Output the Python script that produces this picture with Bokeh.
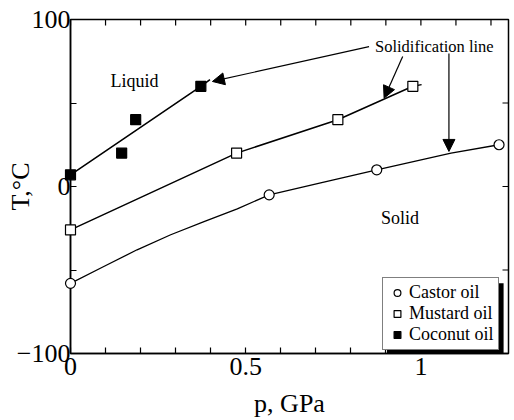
from bokeh.plotting import figure
from bokeh.models import (Range1d, FixedTicker, LinearAxis, Label, Arrow, NormalHead,
                          Legend, LegendItem, BoxAnnotation)
from bokeh.embed import file_html
from bokeh.resources import INLINE

# measured points
castor_p = [0.0, 0.567, 0.874, 1.223]
castor_T = [-58, -5, 10, 25]
mustard_p = [0.0, 0.474, 0.763, 0.977]
mustard_T = [-26, 20, 40, 60]
coconut_p = [0.0, 0.146, 0.186, 0.372]
coconut_T = [7, 20, 40, 60]

# solidification lines
castor_curve_p = [0.0, 0.095, 0.19, 0.286, 0.381, 0.476, 0.567, 0.72, 0.874, 1.086, 1.223]
castor_curve_T = [-58, -47.9, -37.9, -28.9, -21, -13.4, -5, 2.5, 10, 20, 25]
mustard_curve_p = [0.0, 0.474, 0.763, 0.977, 1.002]
mustard_curve_T = [-26, 20, 40, 60, 61]
coconut_curve_p = [0.0, 0.372, 0.398]
coconut_curve_T = [7, 60, 64]

x_major = [0, 0.5, 1]
x_minor = [0.1, 0.2, 0.3, 0.4, 0.6, 0.7, 0.8, 0.9, 1.1, 1.2]
x_labels = {0: "0", 0.5: "0.5", 1: "1"}
y_major = [-100, 0, 100]
y_minor = [-50, 50]

X_MIN, X_MAX = 0, 1.25
Y_MIN, Y_MAX = -100, 100

FONT = "Liberation Serif"

p = figure(width=514, height=420, output_backend="svg", toolbar_location=None,
           x_range=Range1d(X_MIN, X_MAX), y_range=Range1d(Y_MIN, Y_MAX),
           x_axis_location=None, y_axis_location=None,
           min_border_left=70, min_border_right=6, min_border_top=19, min_border_bottom=67)
p.grid.visible = False
p.outline_line_color = "black"
p.outline_line_width = 1.5
p.background_fill_color = "white"
p.border_fill_color = "white"


def make_axis(ticks, minor, label, tick_standoff, label_standoff, overrides=None):
    ax = LinearAxis(ticker=FixedTicker(ticks=ticks, minor_ticks=minor))
    ax.major_tick_in = 6
    ax.major_tick_out = 0
    ax.minor_tick_in = 6
    ax.minor_tick_out = 0
    ax.axis_line_width = 1.5
    ax.major_tick_line_width = 1.2
    ax.minor_tick_line_width = 1.2
    ax.axis_line_color = "black"
    ax.major_tick_line_color = "black"
    ax.minor_tick_line_color = "black"
    ax.major_label_text_font = FONT
    ax.major_label_text_font_size = "26px"
    ax.major_label_text_color = "black"
    ax.major_label_standoff = tick_standoff
    ax.axis_label = label
    ax.axis_label_standoff = label_standoff
    ax.axis_label_text_font = FONT
    ax.axis_label_text_font_size = "26px"
    ax.axis_label_text_font_style = "normal"
    ax.axis_label_text_color = "black"
    if overrides:
        ax.major_label_overrides = overrides
    return ax


p.add_layout(make_axis(x_major, x_minor, "p, GPa", 4, 11, x_labels), "below")
p.add_layout(make_axis(y_major, y_minor, "T,\u00b0C", 0, -21), "left")

# inward ticks on the top and right frame edges
x_all = x_major + x_minor
y_all = y_major + y_minor
tick_dx = (X_MAX - X_MIN) * 6 / 438
tick_dy = (Y_MAX - Y_MIN) * 6 / 334
p.segment(x0=x_all, y0=[Y_MAX] * len(x_all), x1=x_all, y1=[Y_MAX - tick_dy] * len(x_all),
          line_color="black", line_width=1.2)
p.segment(x0=[X_MAX] * len(y_all), y0=y_all, x1=[X_MAX - tick_dx] * len(y_all), y1=y_all,
          line_color="black", line_width=1.2)

# lines
p.line(castor_curve_p, castor_curve_T, line_color="black", line_width=1.3)
p.line(mustard_curve_p, mustard_curve_T, line_color="black", line_width=1.5)
p.line(coconut_curve_p, coconut_curve_T, line_color="black", line_width=1.6)

# markers (overlay level so the ones on the axis are not cut by the frame)
r_castor = p.scatter(castor_p, castor_T, marker="circle", size=10, fill_color="white",
                     line_color="black", line_width=1.2, level="overlay")
r_mustard = p.scatter(mustard_p, mustard_T, marker="square", size=10, fill_color="white",
                      line_color="black", line_width=1.2, level="overlay")
r_coconut = p.scatter(coconut_p, coconut_T, marker="square", size=10, fill_color="black",
                      line_color="black", line_width=1.2, level="overlay")

# texts
for txt, x, y, size in [("Liquid", 0.114, 63, "18px"), ("Solid", 0.886, -19, "18px"),
                         ("Solidification line", 0.869, 84, "16.5px")]:
    p.add_layout(Label(x=x, y=y, text=txt, text_font=FONT, text_font_size=size,
                       text_baseline="middle", text_align="left", text_color="black"))

# arrows
for xs, ys, xe, ye in [(0.852, 83.8, 0.405, 62.9), (0.948, 77.8, 0.895, 52.9),
                       (1.08, 79.6, 1.08, 21)]:
    p.add_layout(Arrow(end=NormalHead(size=12, fill_color="black", line_color="black"),
                       x_start=xs, y_start=ys, x_end=xe, y_end=ye,
                       line_color="black", line_width=1.2))

# legend shadow + legend
p.add_layout(BoxAnnotation(left=0.903, right=1.236, top=-58.0, bottom=-100,
                           fill_color="black", fill_alpha=1, line_color=None))
legend = Legend(items=[LegendItem(label="Castor oil", renderers=[r_castor]),
                       LegendItem(label="Mustard oil", renderers=[r_mustard]),
                       LegendItem(label="Coconut oil", renderers=[r_coconut])],
                location=(312, 3), border_line_color="black", border_line_width=1.5,
                background_fill_color="white", background_fill_alpha=1,
                label_text_font=FONT, label_text_font_size="18px", label_text_color="black",
                padding=4, spacing=-1, glyph_width=20, glyph_height=17, label_height=17,
                label_standoff=2, margin=0)
p.add_layout(legend)

open("out.html", "w").write(file_html(p, INLINE))
